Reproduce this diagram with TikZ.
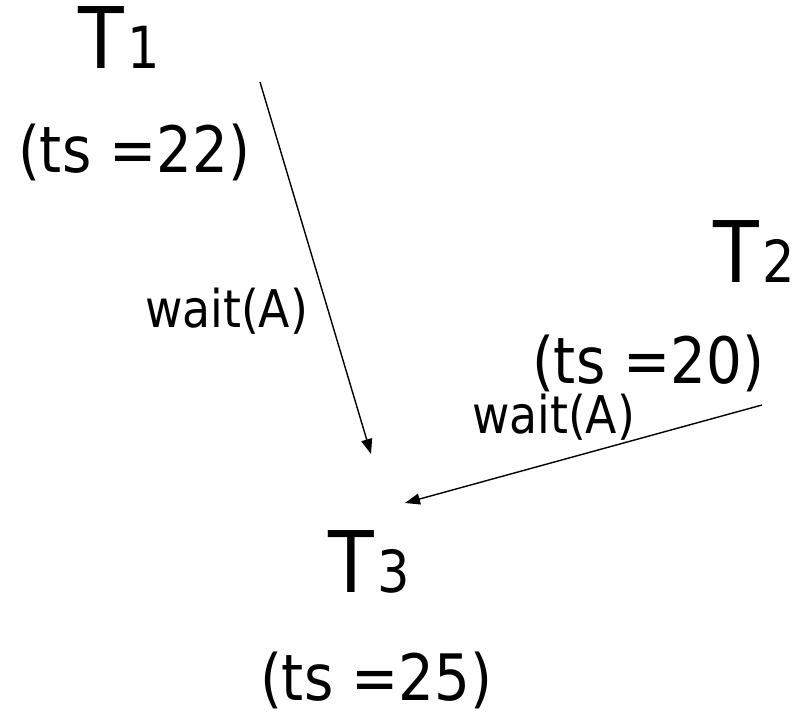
\documentclass[tikz,border=0pt]{standalone}
\usepackage{fontspec}
\setmainfont[FakeStretch=0.88]{DejaVu Sans}
\usetikzlibrary{arrows.meta}
\tikzset{
  lbl/.style={inner sep=0pt, outer sep=0pt, anchor=base west},
  big/.style={lbl, font=\fontsize{85}{85}\selectfont},
  ts/.style={lbl, font=\fontsize{64}{64}\selectfont},
  wt/.style={lbl, font=\fontsize{52}{52}\selectfont},
  conn/.style={line width=1.4pt, -{Triangle[length=15pt,width=11pt]}},
}
\newcommand{\sub}[1]{\kern4pt{\fontsize{58}{58}\selectfont #1}}
\begin{document}
\begin{tikzpicture}[x=1pt,y=-1pt]
\useasboundingbox (0,0) rectangle (804,720);
\node[big] (t1) at (78,68) {T\sub{1}};
\node[ts] (ts1) at (18,172) {(ts =22)};
\node[big] (t2) at (713,282) {T\sub{2}};
\node[ts] (ts2) at (532,383) {(ts =20)};
\node[big] (t3) at (328,592) {T\sub{3}};
\node[ts] (ts3) at (260,700) {(ts =25)};
\node[wt] (w1) at (145,327) {wait(A)};
\node[wt] (w2) at (472,433) {wait(A)};
\coordinate (a1s) at (260,82);
\coordinate (a1e) at (371,454);
\coordinate (a2s) at (762,405);
\coordinate (a2e) at (405,503);
\draw[conn] (a1s) -- (a1e);
\draw[conn] (a2s) -- (a2e);
\end{tikzpicture}
\end{document}
